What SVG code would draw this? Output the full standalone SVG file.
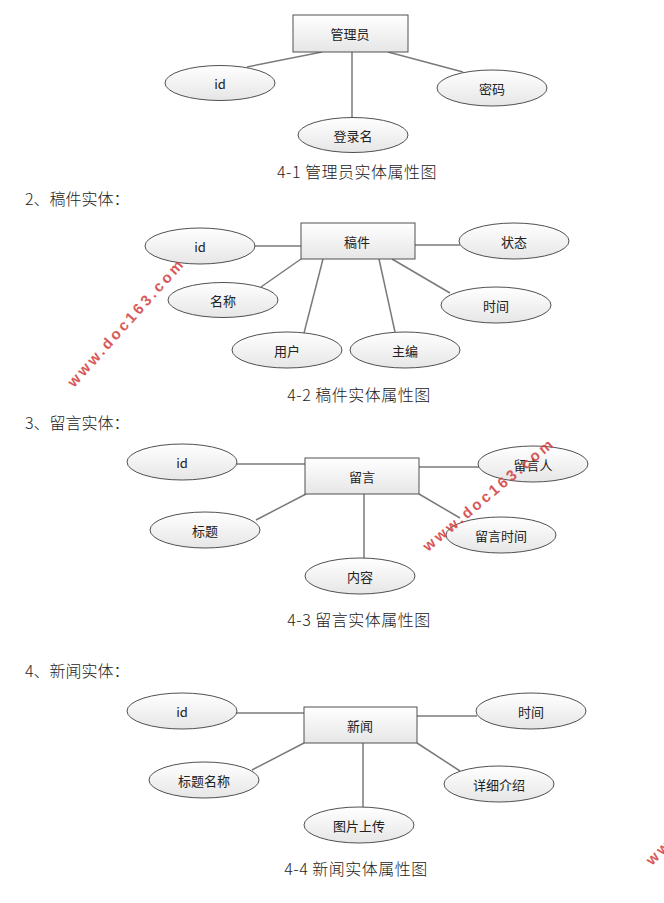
<svg xmlns="http://www.w3.org/2000/svg" width="664" height="903" viewBox="0 0 664 903">
<defs>
<linearGradient id="g" x1="0" y1="0" x2="0" y2="1">
<stop offset="0" stop-color="#ffffff"/>
<stop offset="1" stop-color="#e6e6e6"/>
</linearGradient>
<style>
.bg{fill:#ffffff}
.ent{fill:url(#g);stroke:#505050;stroke-width:1}
.att{fill:url(#g);stroke:#505050;stroke-width:1}
.ln{stroke:#7a7a7a;stroke-width:1.5;fill:none}
.t{font-family:"Noto Sans CJK SC","Liberation Sans",sans-serif;font-size:13px;fill:#222;text-anchor:middle;dominant-baseline:central}
.cap{font-family:"Noto Sans CJK SC","Liberation Serif",serif;font-size:16px;fill:#222;text-anchor:middle;font-weight:300;letter-spacing:0.5px}
.hd{font-family:"Noto Sans CJK SC","Liberation Serif",serif;font-size:16px;fill:#222;font-weight:300}
.wm{font-family:"Liberation Sans",sans-serif;font-size:15px;font-weight:bold;fill:#d23c3c;letter-spacing:3px;opacity:0.85}
</style>
</defs>
<rect class="bg" x="0" y="0" width="664" height="903"/>

<g id="connectors">
<line class="ln" x1="322" y1="52" x2="247" y2="67"/>
<line class="ln" x1="352" y1="52" x2="352" y2="118"/>
<line class="ln" x1="388" y1="52" x2="463" y2="72"/>

<line class="ln" x1="255" y1="246" x2="301" y2="246"/>
<line class="ln" x1="415" y1="245" x2="460" y2="245"/>
<line class="ln" x1="301" y1="259" x2="261" y2="287"/>
<line class="ln" x1="323" y1="259" x2="304" y2="333"/>
<line class="ln" x1="379" y1="259" x2="395" y2="332"/>
<line class="ln" x1="392" y1="259" x2="450" y2="293"/>

<line class="ln" x1="237" y1="464" x2="306" y2="464"/>
<line class="ln" x1="419" y1="467" x2="479" y2="467"/>
<line class="ln" x1="306" y1="494" x2="256" y2="520"/>
<line class="ln" x1="364" y1="494" x2="364" y2="558"/>
<line class="ln" x1="419" y1="494" x2="460" y2="518"/>

<line class="ln" x1="236" y1="713" x2="304" y2="713"/>
<line class="ln" x1="417" y1="716" x2="477" y2="716"/>
<line class="ln" x1="304" y1="743" x2="252" y2="770"/>
<line class="ln" x1="363" y1="743" x2="363" y2="807"/>
<line class="ln" x1="417" y1="743" x2="460" y2="771"/>
</g>

<!-- Diagram 4-1 -->
<g id="admin"><rect class="ent" x="293" y="15" width="115" height="37"/><text class="t" x="350" y="33">管理员</text></g>
<g id="admin-id"><ellipse class="att" cx="220" cy="83" rx="55" ry="17.5"/><text class="t" x="220" y="83">id</text></g>
<g id="admin-pwd"><ellipse class="att" cx="492" cy="88" rx="55" ry="18"/><text class="t" x="492" y="88">密码</text></g>
<g id="admin-login"><ellipse class="att" cx="353" cy="135" rx="55" ry="17.5"/><text class="t" x="353" y="135">登录名</text></g>
<text class="cap" x="357" y="178">4-1 管理员实体属性图</text>

<!-- Diagram 4-2 -->
<text class="hd" x="25" y="205">2、稿件实体：</text>
<g id="article"><rect class="ent" x="301" y="223" width="114" height="36"/><text class="t" x="357" y="241">稿件</text></g>
<g id="article-id"><ellipse class="att" cx="200" cy="246" rx="55" ry="18"/><text class="t" x="200" y="246">id</text></g>
<g id="article-status"><ellipse class="att" cx="514" cy="241" rx="55" ry="18"/><text class="t" x="514" y="241">状态</text></g>
<g id="article-name"><ellipse class="att" cx="223" cy="300" rx="55" ry="17.5"/><text class="t" x="223" y="300">名称</text></g>
<g id="article-time"><ellipse class="att" cx="496" cy="305" rx="55" ry="18"/><text class="t" x="496" y="305">时间</text></g>
<g id="article-user"><ellipse class="att" cx="287" cy="350" rx="55" ry="18"/><text class="t" x="287" y="350">用户</text></g>
<g id="article-editor"><ellipse class="att" cx="405" cy="350" rx="55" ry="18"/><text class="t" x="405" y="350">主编</text></g>
<text class="cap" x="359" y="401">4-2 稿件实体属性图</text>

<!-- Diagram 4-3 -->
<text class="hd" x="25" y="429">3、留言实体：</text>
<g id="message"><rect class="ent" x="305" y="458" width="114" height="36"/><text class="t" x="362" y="476">留言</text></g>
<g id="message-id"><ellipse class="att" cx="182" cy="462" rx="55" ry="18"/><text class="t" x="182" y="462">id</text></g>
<g id="message-author"><ellipse class="att" cx="533" cy="464" rx="55" ry="18"/><text class="t" x="533" y="464">留言人</text></g>
<g id="message-title"><ellipse class="att" cx="205" cy="530" rx="55" ry="18"/><text class="t" x="205" y="530">标题</text></g>
<g id="message-time"><ellipse class="att" cx="501" cy="535" rx="55" ry="18"/><text class="t" x="501" y="535">留言时间</text></g>
<g id="message-content"><ellipse class="att" cx="360" cy="576" rx="55" ry="18"/><text class="t" x="360" y="576">内容</text></g>
<text class="cap" x="359" y="626">4-3 留言实体属性图</text>

<!-- Diagram 4-4 -->
<text class="hd" x="25" y="677">4、新闻实体：</text>
<g id="news"><rect class="ent" x="304" y="707" width="113" height="36"/><text class="t" x="360" y="725">新闻</text></g>
<g id="news-id"><ellipse class="att" cx="182" cy="711" rx="55" ry="18"/><text class="t" x="182" y="711">id</text></g>
<g id="news-time"><ellipse class="att" cx="531" cy="711" rx="55" ry="18"/><text class="t" x="531" y="711">时间</text></g>
<g id="news-title"><ellipse class="att" cx="204" cy="780" rx="55" ry="18"/><text class="t" x="204" y="780">标题名称</text></g>
<g id="news-detail"><ellipse class="att" cx="499" cy="784" rx="55" ry="18"/><text class="t" x="499" y="784">详细介绍</text></g>
<g id="news-image"><ellipse class="att" cx="359" cy="825" rx="55" ry="18"/><text class="t" x="359" y="825">图片上传</text></g>
<text class="cap" x="356" y="875">4-4 新闻实体属性图</text>

<!-- watermarks -->
<text class="wm" transform="translate(74,388) rotate(-48)">www.doc163.com</text>
<text class="wm" transform="translate(428,552) rotate(-40)">www.doc163.com</text>
<text class="wm" transform="translate(652,866) rotate(-45)">www.doc163.com</text>
</svg>
